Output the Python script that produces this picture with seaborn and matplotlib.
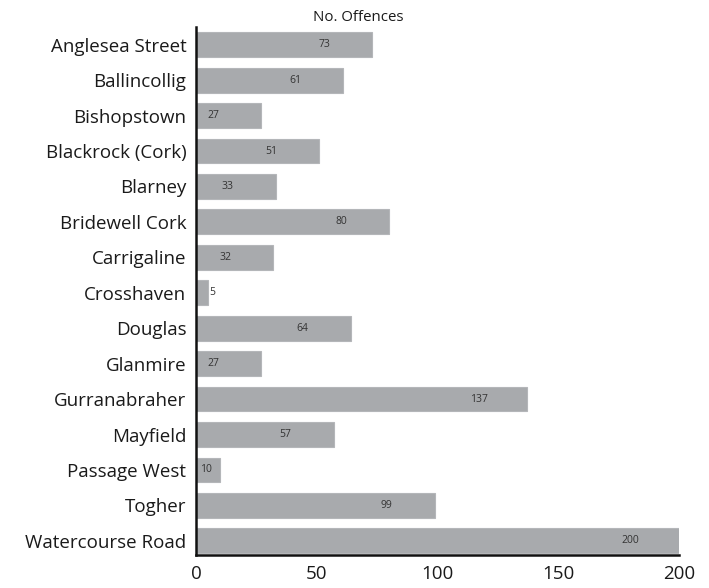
import matplotlib
matplotlib.use("Agg")
import matplotlib.pyplot as plt
import numpy as np
import pandas as pd
import seaborn as sns

# data
stations = ['Anglesea Street', 'Ballincollig', 'Bishopstown', 'Blackrock (Cork)',
            'Blarney', 'Bridewell Cork', 'Carrigaline', 'Crosshaven', 'Douglas',
            'Glanmire', 'Gurranabraher', 'Mayfield', 'Passage West', 'Togher',
            'Watercourse Road']
offences = [73, 61, 27, 51, 33, 80, 32, 5, 64, 27, 137, 57, 10, 99, 200]
x_ticks = [0, 50, 100, 150, 200]

df = pd.DataFrame({'Station': stations, 'Offences': offences})

sns.set_theme(style="white")
plt.rcParams['font.family'] = ['Open Sans', 'DejaVu Sans']

fig = plt.figure(figsize=(7.09, 5.88), dpi=100)
ax = fig.add_axes([0.2765, 0.0561, 0.6812, 0.898])

sns.barplot(data=df, x='Offences', y='Station', orient='h', color='#a8aaad',
            saturation=1, width=0.7, edgecolor='#b4b6b9', linewidth=0.8, ax=ax)

# value labels inside the bars
for i, v in enumerate(offences):
    if v >= 25:
        ax.text(v - 20, i, str(v), ha='center', va='center', fontsize=7.5, color='#333333')
    elif v >= 8:
        ax.text(v * 0.4, i, str(v), ha='center', va='center', fontsize=7.5, color='#333333')
    else:
        ax.text(v + 0.4, i, str(v), ha='left', va='center', fontsize=7.5, color='#333333')

ax.set_xlim(0, 200)
ax.set_ylim(len(stations) - 0.6, -0.5)
ax.set_xticks(x_ticks)
ax.set_xticklabels([str(t) for t in x_ticks], fontsize=13.5, color='#1a1a1a')
ax.set_yticks(range(len(stations)))
ax.set_yticklabels(stations, fontsize=13.5, color='#1a1a1a')
ax.set_yticks(np.arange(len(stations) - 1) + 0.5, minor=True)
ax.set_xlabel('')
ax.set_ylabel('')

for side in ['top', 'right']:
    ax.spines[side].set_visible(False)
for side in ['left', 'bottom']:
    ax.spines[side].set_color('#111111')
    ax.spines[side].set_linewidth(1.8)

ax.tick_params(axis='x', direction='in', length=6, width=1.3, color='#111111', pad=7)
ax.tick_params(axis='y', which='major', length=0, pad=7)
ax.tick_params(axis='y', which='minor', direction='inout', length=4, width=1.3, color='#111111')

fig.text(0.505, 0.958, 'No. Offences', ha='center', va='bottom', fontsize=10.8, color='#1a1a1a')

plt.savefig('out.png', dpi=100)
plt.close()
